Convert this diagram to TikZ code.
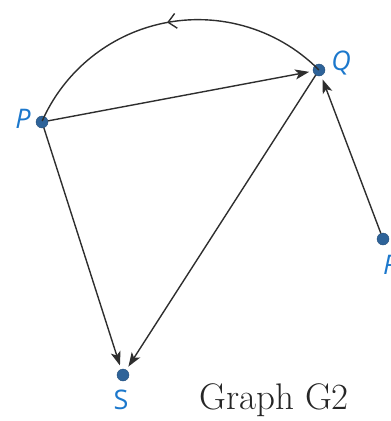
\documentclass[tikz,border=0pt]{standalone}
\usepackage{fontspec}
\usepackage{graphicx}
\usetikzlibrary{arrows.meta,decorations.markings}
\newfontfamily\lblfont{Open Sans}
\definecolor{nodeblue}{HTML}{2E6399}
\definecolor{lblblue}{HTML}{1C78CC}
\definecolor{edgegray}{HTML}{2E2E2E}
\definecolor{titlegray}{HTML}{262626}
\tikzset{
  vertex/.style={circle, fill=nodeblue, draw=nodeblue!80!black, line width=0.4pt, minimum size=12pt, inner sep=0pt, outer sep=0pt},
  vlabel/.style={text=lblblue, font=\lblfont\itshape\fontsize{27}{29}\selectfont, inner sep=0pt},
  slabel/.style={text=lblblue, font=\lblfont\fontsize{27}{29}\selectfont, inner sep=0pt},
  edge/.style={draw=edgegray, line width=1.4pt, shorten >=4pt, -{Stealth[length=14pt, width=10pt, inset=3.5pt]}},
  arcedge/.style={draw=edgegray, line width=1.4pt,
    postaction={decorate, decoration={markings, mark=at position 0.5 with {\arrow{Straight Barb[length=8pt, width=15pt, line width=1.4pt]}}}}},
}
\begin{document}
\begin{tikzpicture}[x=1pt, y=-1pt]
\useasboundingbox (0,0) rectangle (391,421);
\node[vertex] (P) at (42,122) {};
\node[vertex] (Q) at (319,70) {};
\node[vertex] (R) at (383,239) {};
\node[vertex] (S) at (123,375) {};
\node[vlabel] (lP) at (23,119) {P};
\node[vlabel] (lQ) at (341,63) {Q};
\node[vlabel, anchor=west] (lR) at (383,265) {R};
\node[slabel] (lS) at (121,400) {S};
\node[anchor=base west, inner sep=0pt, text=titlegray, font=\fontsize{37}{40}\selectfont] (title) at (199,409) {Graph G2};
\draw[edge] (P) -- (Q);
\draw[edge] (P) -- (S);
\draw[edge] (Q) -- (S);
\draw[edge] (R) -- (Q);
\draw[arcedge] (Q.center) arc[start angle=-44.8, end angle=-156.1, radius=170.5];
\end{tikzpicture}
\end{document}
